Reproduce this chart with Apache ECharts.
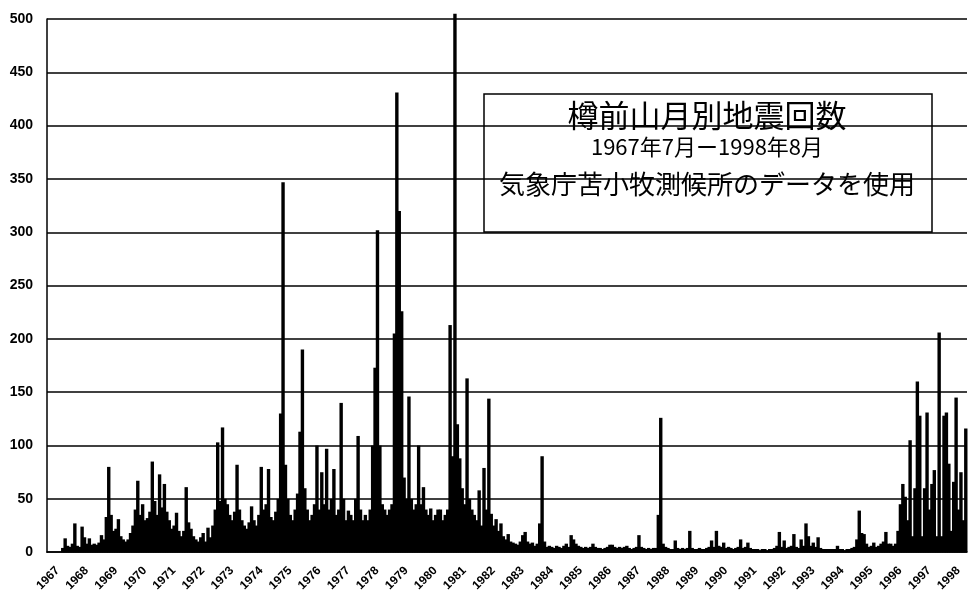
<!DOCTYPE html>
<html>
<head>
<meta charset="utf-8">
<script src="https://cdn.jsdelivr.net/npm/echarts@6/dist/echarts.min.js"></script>
<style>
  html, body { margin: 0; padding: 0; background: #fff; }
  #chart { width: 968px; height: 594px; }
</style>
</head>
<body>
<div id="chart"></div>
<script>
// Monthly earthquake counts at Tarumae volcano, one array per calendar year (Jan..Dec).
// Observation starts July 1967 and ends August 1998.
const counts1967 = [null, null, null, null, null, null, 4, 13, 6, 5, 8, 27];
const counts1968 = [6, 5, 24, 14, 8, 13, 7, 8, 7, 9, 16, 12];
const counts1969 = [33, 80, 35, 20, 22, 31, 15, 12, 10, 12, 18, 25];
const counts1970 = [40, 67, 35, 45, 30, 32, 38, 85, 48, 35, 73, 42];
const counts1971 = [64, 38, 30, 22, 25, 37, 20, 15, 20, 61, 28, 22];
const counts1972 = [15, 12, 10, 14, 18, 10, 23, 14, 25, 40, 103, 48];
const counts1973 = [117, 50, 45, 35, 30, 38, 82, 40, 30, 25, 22, 28];
const counts1974 = [43, 30, 25, 35, 80, 40, 45, 78, 33, 30, 38, 50];
const counts1975 = [130, 347, 82, 50, 35, 30, 40, 55, 113, 190, 60, 40];
const counts1976 = [30, 35, 45, 100, 40, 75, 45, 97, 40, 50, 78, 35];
const counts1977 = [40, 140, 50, 30, 39, 35, 30, 50, 109, 40, 30, 35];
const counts1978 = [30, 40, 100, 173, 302, 100, 45, 40, 35, 40, 45, 205];
const counts1979 = [431, 320, 226, 70, 50, 146, 50, 40, 45, 100, 45, 61];
const counts1980 = [40, 35, 41, 30, 35, 40, 40, 30, 35, 40, 213, 90];
const counts1981 = [505, 120, 88, 60, 45, 163, 50, 40, 35, 30, 58, 25];
const counts1982 = [79, 40, 144, 36, 25, 31, 20, 27, 15, 12, 17, 10];
const counts1983 = [9, 8, 7, 10, 16, 19, 10, 8, 9, 6, 8, 27];
const counts1984 = [90, 10, 5, 6, 5, 4, 6, 5, 4, 6, 8, 5];
const counts1985 = [16, 12, 8, 6, 5, 4, 5, 4, 5, 8, 5, 4];
const counts1986 = [4, 3, 4, 5, 7, 7, 5, 4, 5, 4, 5, 6];
const counts1987 = [4, 3, 4, 5, 16, 5, 4, 3, 4, 3, 4, 4];
const counts1988 = [35, 126, 8, 5, 4, 3, 3, 11, 4, 3, 4, 3];
const counts1989 = [4, 20, 4, 3, 3, 4, 3, 3, 4, 5, 11, 5];
const counts1990 = [20, 6, 5, 9, 4, 5, 4, 3, 4, 5, 12, 4];
const counts1991 = [5, 9, 4, 3, 3, 3, 2, 3, 3, 2, 3, 3];
const counts1992 = [4, 6, 19, 5, 11, 4, 5, 6, 17, 5, 4, 12];
const counts1993 = [6, 27, 15, 6, 9, 5, 14, 4, 3, 3, 3, 3];
const counts1994 = [3, 3, 6, 3, 3, 2, 3, 3, 4, 5, 12, 39];
const counts1995 = [18, 17, 8, 5, 6, 9, 5, 6, 8, 10, 19, 8];
const counts1996 = [8, 6, 8, 20, 45, 64, 52, 30, 105, 15, 60, 160];
const counts1997 = [128, 15, 60, 131, 40, 64, 77, 15, 206, 15, 128, 131];
const counts1998 = [83, 20, 66, 145, 40, 75, 30, 116];

const yearLabels = ['1967', '1968', '1969', '1970', '1971', '1972', '1973', '1974',
  '1975', '1976', '1977', '1978', '1979', '1980', '1981', '1982', '1983', '1984',
  '1985', '1986', '1987', '1988', '1989', '1990', '1991', '1992', '1993', '1994',
  '1995', '1996', '1997', '1998'];

const yearlyCounts = [counts1967, counts1968, counts1969, counts1970, counts1971,
  counts1972, counts1973, counts1974, counts1975, counts1976, counts1977, counts1978,
  counts1979, counts1980, counts1981, counts1982, counts1983, counts1984, counts1985,
  counts1986, counts1987, counts1988, counts1989, counts1990, counts1991, counts1992,
  counts1993, counts1994, counts1995, counts1996, counts1997, counts1998];

// One category per month, labelled "YYYY-MM"; the axis shows the year at each January.
const months = [];
const counts = [];
yearlyCounts.forEach(function (arr, yi) {
  arr.forEach(function (v, mi) {
    months.push(yearLabels[yi] + '-' + String(mi + 1).padStart(2, '0'));
    counts.push(v);
  });
});

const chart = echarts.init(document.getElementById('chart'), null, { renderer: 'canvas' });
const axisFont = 'Liberation Sans, Arial, sans-serif';
const jpFont = '"Noto Sans CJK JP", "Noto Sans CJK SC", sans-serif';

chart.setOption({
  animation: false,
  backgroundColor: '#fff',
  grid: { left: 47, right: 1, top: 19, bottom: 40, containLabel: false },
  xAxis: {
    type: 'category',
    data: months,
    boundaryGap: true,
    axisLine: { show: true, lineStyle: { color: '#000', width: 1.5 } },
    axisTick: { show: false },
    splitLine: { show: false },
    axisLabel: {
      interval: function (index) { return index % 12 === 0; },
      formatter: function (v) { return v.slice(0, 4); },
      rotate: 45,
      align: 'center',
      verticalAlign: 'middle',
      margin: 26,
      color: '#000',
      fontSize: 12,
      fontWeight: 'bold',
      fontFamily: axisFont
    }
  },
  yAxis: {
    type: 'value',
    min: 0,
    max: 500,
    interval: 50,
    axisLine: { show: true, lineStyle: { color: '#000', width: 1.5 } },
    axisTick: { show: false },
    splitLine: { show: true, lineStyle: { color: '#000', width: 1.5 } },
    axisLabel: { color: '#000', fontSize: 14, fontWeight: 'bold', margin: 14, fontFamily: axisFont }
  },
  series: [{
    type: 'bar',
    data: counts,
    barWidth: 3.4,
    clip: false,
    itemStyle: { color: '#000' },
    emphasis: { disabled: true },
    z: 3
  }],
  graphic: [{
    type: 'group',
    z: 10,
    children: [
      {
        type: 'rect',
        shape: { x: 484, y: 94, width: 448, height: 138 },
        style: { fill: '#fff', stroke: '#000', lineWidth: 1.5 }
      },
      {
        type: 'text',
        style: {
          text: '樽前山月別地震回数', x: 707, y: 115,
          textAlign: 'center', textVerticalAlign: 'middle',
          fontSize: 31, fontFamily: jpFont, fill: '#000'
        }
      },
      {
        type: 'text',
        style: {
          text: '1967年7月ー1998年8月', x: 707, y: 147,
          textAlign: 'center', textVerticalAlign: 'middle',
          fontSize: 22, fontFamily: jpFont, fill: '#000'
        }
      },
      {
        type: 'text',
        style: {
          text: '気象庁苫小牧測候所のデータを使用', x: 707, y: 184,
          textAlign: 'center', textVerticalAlign: 'middle',
          fontSize: 26, fontFamily: jpFont, fill: '#000'
        }
      }
    ]
  }]
});
</script>
</body>
</html>
